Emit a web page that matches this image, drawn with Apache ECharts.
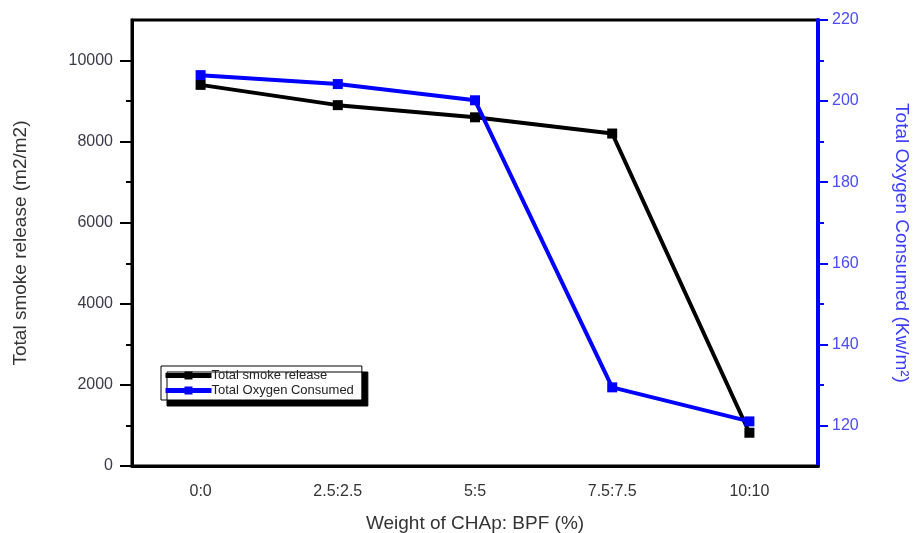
<!DOCTYPE html>
<html>
<head>
<meta charset="utf-8">
<script src="https://cdn.jsdelivr.net/npm/echarts@6/dist/echarts.min.js"></script>
<style>html,body{margin:0;padding:0;background:#fff}#c{width:917px;height:533px}</style>
</head>
<body>
<div id="c"></div>
<script>
const categories = ['0:0', '2.5:2.5', '5:5', '7.5:7.5', '10:10'];
const smokeRelease = [9400, 8900, 8600, 8200, 820];
const oxygenConsumed = [206.4, 204.2, 200.2, 129.4, 121];
const leftTicks = [0, 2000, 4000, 6000, 8000, 10000];
const leftMinorTicks = [1000, 3000, 5000, 7000, 9000];
const rightTicks = [120, 140, 160, 180, 200, 220];
const rightMinorTicks = [130, 150, 170, 190, 210];

const FONT = 'Liberation Sans, Arial, sans-serif';
const BLUE = '#0000ff';
const plain = v => String(v);
const chart = echarts.init(document.getElementById('c'), null, {renderer: 'canvas'});
chart.setOption({
  animation: false,
  backgroundColor: '#fff',
  textStyle: {fontFamily: FONT},
  grid: {left: 132, right: 99, top: 20, bottom: 67, show: true, borderColor: '#000', borderWidth: 3,
         backgroundColor: 'transparent', containLabel: false, outerBoundsMode: 'none'},
  legend: {
    left: 161, top: 366, orient: 'vertical', itemGap: 2, itemWidth: 46, itemHeight: 10,
    backgroundColor: '#fff', borderColor: '#000', borderWidth: 1, borderRadius: 0,
    padding: [3, 8, 3, 2],
    shadowColor: '#000', shadowBlur: 0, shadowOffsetX: 6, shadowOffsetY: 6,
    lineStyle: {width: 5},
    textStyle: {fontSize: 13, color: '#222', fontFamily: FONT, padding: [0, 0, 0, -5]},
    data: ['Total smoke release', 'Total Oxygen Consumed']
  },
  xAxis: [{
    type: 'category', data: categories, position: 'bottom',
    name: 'Weight of CHAp: BPF (%)', nameLocation: 'middle', nameGap: 48,
    nameTextStyle: {fontSize: 19, color: '#333', fontFamily: FONT},
    axisLine: {lineStyle: {color: '#000', width: 3}},
    axisTick: {alignWithLabel: true, length: 8, lineStyle: {color: '#000', width: 2}},
    axisLabel: {margin: 18, fontSize: 16, color: '#333', fontFamily: FONT},
    splitLine: {show: false}
  }, {
    type: 'category', data: categories, position: 'bottom',
    axisLine: {show: false},
    axisTick: {length: 5, lineStyle: {color: '#000', width: 2}},
    axisLabel: {show: false},
    splitLine: {show: false}
  }],
  yAxis: [{
    type: 'value', position: 'left', min: 0, max: 11000,
    name: 'Total smoke release (m2/m2)', nameLocation: 'middle', nameGap: 102,
    nameTextStyle: {fontSize: 19, color: '#333', fontFamily: FONT},
    axisLine: {show: true, lineStyle: {color: '#000', width: 3}},
    axisTick: {show: true, length: 12, customValues: leftTicks, lineStyle: {color: '#000', width: 2}},
    axisLabel: {margin: 19, fontSize: 16, color: '#3a3a4a', fontFamily: FONT, customValues: leftTicks, formatter: plain},
    splitLine: {show: false}
  }, {
    type: 'value', position: 'left', min: 0, max: 11000,
    axisLine: {show: false},
    axisTick: {show: true, length: 6, customValues: leftMinorTicks, lineStyle: {color: '#000', width: 2}},
    axisLabel: {show: false},
    splitLine: {show: false}
  }, {
    type: 'value', position: 'right', min: 110, max: 220,
    name: 'Total Oxygen Consumed (Kw/m²)', nameLocation: 'middle', nameGap: 74, nameRotate: -90,
    nameTextStyle: {fontSize: 19, color: '#3c3cff', fontFamily: FONT},
    axisLine: {show: true, lineStyle: {color: BLUE, width: 4}},
    axisTick: {show: true, length: 10, customValues: rightTicks, lineStyle: {color: BLUE, width: 2}},
    axisLabel: {margin: 14, fontSize: 16, color: '#4a4aff', fontFamily: FONT, customValues: rightTicks, formatter: plain},
    splitLine: {show: false}
  }, {
    type: 'value', position: 'right', min: 110, max: 220,
    axisLine: {show: false},
    axisTick: {show: true, length: 6, customValues: rightMinorTicks, lineStyle: {color: BLUE, width: 2}},
    axisLabel: {show: false},
    splitLine: {show: false}
  }],
  series: [{
    name: 'Total smoke release', type: 'line', xAxisIndex: 0, yAxisIndex: 0,
    data: smokeRelease, symbol: 'rect', symbolSize: 10,
    lineStyle: {color: '#000', width: 4}, itemStyle: {color: '#000'}, z: 3
  }, {
    name: 'Total Oxygen Consumed', type: 'line', xAxisIndex: 0, yAxisIndex: 2,
    data: oxygenConsumed, symbol: 'rect', symbolSize: 10,
    lineStyle: {color: BLUE, width: 4}, itemStyle: {color: BLUE}, z: 4
  }]
});
</script>
</body>
</html>
